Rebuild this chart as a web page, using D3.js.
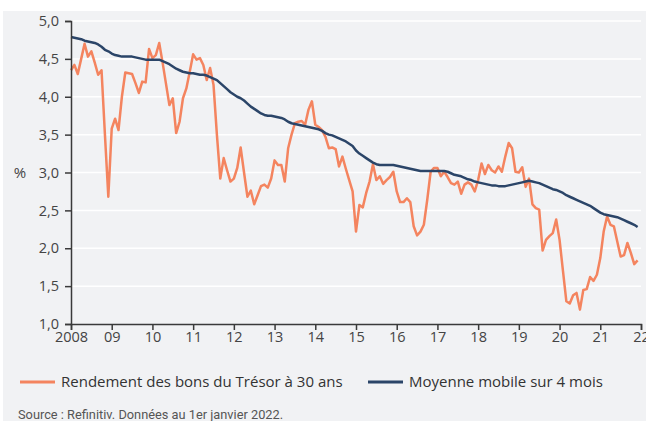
<!DOCTYPE html>
<html>
<head>
<meta charset="utf-8">
<script src="https://cdn.jsdelivr.net/npm/d3@7"></script>
<style>
  html, body { margin: 0; padding: 0; background: #fff; }
  svg { display: block; font-family: "Open Sans", Roboto, sans-serif; }
</style>
</head>
<body>
<div id="chart"></div>
<script>
// Monthly data, Jan 2008 -> Dec 2021
const startYear = 2008;
const yieldValues = [
  4.35, 4.42, 4.30, 4.50, 4.70, 4.53, 4.60, 4.45, 4.29, 4.35, 3.50, 2.68,
  3.58, 3.71, 3.56, 4.00, 4.32, 4.31, 4.30, 4.18, 4.05, 4.20, 4.19, 4.63,
  4.51, 4.55, 4.71, 4.45, 4.17, 3.89, 3.98, 3.52, 3.67, 3.98, 4.11, 4.33,
  4.56, 4.49, 4.51, 4.42, 4.22, 4.38, 4.16, 3.50, 2.92, 3.19, 3.03, 2.88,
  2.92, 3.06, 3.33, 3.00, 2.68, 2.76, 2.58, 2.70, 2.82, 2.84, 2.80, 2.92,
  3.16, 3.10, 3.10, 2.88, 3.32, 3.50, 3.65, 3.67, 3.68, 3.63, 3.83, 3.94,
  3.63, 3.60, 3.56, 3.47, 3.32, 3.33, 3.31, 3.08, 3.21, 3.05, 2.90, 2.75,
  2.22, 2.57, 2.54, 2.73, 2.88, 3.11, 2.90, 2.95, 2.85, 2.90, 2.94, 3.01,
  2.75, 2.61, 2.61, 2.66, 2.61, 2.29, 2.17, 2.22, 2.31, 2.64, 3.01, 3.06,
  3.06, 2.95, 3.01, 2.94, 2.86, 2.84, 2.88, 2.72, 2.84, 2.87, 2.84, 2.75,
  2.90, 3.12, 2.98, 3.10, 3.03, 3.00, 3.08, 3.01, 3.21, 3.39, 3.32, 3.01,
  3.00, 3.07, 2.81, 2.92, 2.58, 2.53, 2.51, 1.97, 2.11, 2.16, 2.20, 2.38,
  2.11, 1.70, 1.30, 1.27, 1.38, 1.41, 1.19, 1.45, 1.46, 1.62, 1.57, 1.65,
  1.87, 2.22, 2.42, 2.31, 2.29, 2.09, 1.89, 1.91, 2.07, 1.94, 1.79, 1.84
];
const movingAvgValues = [
  4.79, 4.78, 4.77, 4.76, 4.74, 4.73, 4.72, 4.71, 4.69, 4.66, 4.62, 4.60,
  4.57, 4.55, 4.54, 4.53, 4.53, 4.53, 4.53, 4.52, 4.51, 4.50, 4.49, 4.49,
  4.49, 4.49, 4.49, 4.47, 4.45, 4.43, 4.40, 4.37, 4.35, 4.33, 4.32, 4.31,
  4.31, 4.30, 4.29, 4.29, 4.28, 4.26, 4.24, 4.22, 4.18, 4.14, 4.10, 4.06,
  4.03, 4.00, 3.98, 3.95, 3.91, 3.87, 3.84, 3.81, 3.78, 3.76, 3.75, 3.75,
  3.74, 3.73, 3.72, 3.70, 3.67, 3.65, 3.64, 3.63, 3.62, 3.61, 3.60, 3.59,
  3.58, 3.57, 3.55, 3.52, 3.50, 3.49, 3.47, 3.45, 3.43, 3.41, 3.38, 3.35,
  3.29, 3.25, 3.22, 3.19, 3.16, 3.13, 3.11, 3.10, 3.10, 3.10, 3.10, 3.10,
  3.09, 3.08, 3.07, 3.06, 3.05, 3.04, 3.03, 3.02, 3.02, 3.02, 3.02, 3.02,
  3.02, 3.02, 3.02, 3.01, 2.99, 2.97, 2.96, 2.95, 2.93, 2.91, 2.90, 2.88,
  2.87, 2.86, 2.85, 2.84, 2.83, 2.83, 2.82, 2.82, 2.82, 2.83, 2.84, 2.85,
  2.86, 2.87, 2.88, 2.89, 2.88, 2.87, 2.86, 2.84, 2.82, 2.80, 2.78, 2.77,
  2.75, 2.73, 2.70, 2.68, 2.66, 2.64, 2.62, 2.60, 2.58, 2.56, 2.53, 2.50,
  2.47, 2.45, 2.44, 2.43, 2.42, 2.41, 2.39, 2.37, 2.35, 2.33, 2.31, 2.28
];
const yearTicks = [2008, 2009, 2010, 2011, 2012, 2013, 2014, 2015, 2016, 2017, 2018, 2019, 2020, 2021, 2022];
const yTicks = [1.0, 1.5, 2.0, 2.5, 3.0, 3.5, 4.0, 4.5, 5.0];
const seriesNames = ['Rendement des bons du Trésor à 30 ans', 'Moyenne mobile sur 4 mois'];
const seriesColors = ['#f4845f', '#2b4568'];
const sourceText = 'Source : Refinitiv. Données au 1er janvier 2022.';

const width = 646;
const height = 421;
const margin = { top: 21, right: 5, bottom: 97, left: 71 };

const svg = d3.select('#chart')
    .append('svg')
    .attr('width', width)
    .attr('height', height);

// grey panel
svg.append('rect')
    .attr('x', 3)
    .attr('y', 11)
    .attr('width', width - 3)
    .attr('height', height - 11)
    .attr('fill', '#f1f2f4');

const x = d3.scaleLinear()
    .domain([2008, 2022])
    .range([margin.left, 641]);

const y = d3.scaleLinear()
    .domain([1, 5])
    .range([324, margin.top]);

const comma = d3.formatLocale({ decimal: ',', thousands: ' ', grouping: [3], currency: ['', ' €'] });

// gridlines
svg.append('g')
    .selectAll('line')
    .data(yTicks.filter(d => d > 1))
    .join('line')
    .attr('x1', x(2008))
    .attr('x2', x(2022))
    .attr('y1', d => y(d))
    .attr('y2', d => y(d))
    .attr('stroke', '#ffffff')
    .attr('stroke-width', 1.5);

const line = d3.line()
    .x((d, i) => x(startYear + i / 12))
    .y(d => y(d));

svg.append('path')
    .datum(yieldValues)
    .attr('fill', 'none')
    .attr('stroke', seriesColors[0])
    .attr('stroke-width', 2.5)
    .attr('stroke-linejoin', 'round')
    .attr('d', line);

svg.append('path')
    .datum(movingAvgValues)
    .attr('fill', 'none')
    .attr('stroke', seriesColors[1])
    .attr('stroke-width', 2.5)
    .attr('stroke-linejoin', 'round')
    .attr('d', line);

// axes
const yAxis = svg.append('g')
    .attr('transform', `translate(${x(2008)},0)`)
    .call(d3.axisLeft(y).tickValues(yTicks).tickFormat(comma.format('.1f')).tickSize(6).tickPadding(6));

const xAxis = svg.append('g')
    .attr('transform', `translate(0,${y(1)})`)
    .call(d3.axisBottom(x).tickValues(yearTicks)
        .tickFormat(d => d === 2008 ? '2008' : String(d).slice(2))
        .tickSize(6).tickPadding(2));

[yAxis, xAxis].forEach(g => {
    g.select('.domain').attr('stroke', '#3a3a3a').attr('stroke-width', 1.5);
    g.selectAll('.tick line').attr('stroke', '#3a3a3a').attr('stroke-width', 1.5);
    g.selectAll('.tick text')
        .attr('fill', '#444')
        .style('font-size', '14.5px')
        .style('font-family', '"Open Sans", Roboto, sans-serif');
});

svg.append('text')
    .attr('x', 20)
    .attr('y', y(3) + 5)
    .attr('text-anchor', 'middle')
    .attr('fill', '#444')
    .style('font-size', '15px')
    .text('%');

// legend
const legendX = [20, 368];
seriesNames.forEach((name, i) => {
    svg.append('line')
        .attr('x1', legendX[i])
        .attr('x2', legendX[i] + 35)
        .attr('y1', 382)
        .attr('y2', 382)
        .attr('stroke', seriesColors[i])
        .attr('stroke-width', 3);
    svg.append('text')
        .attr('x', legendX[i] + 41)
        .attr('y', 387)
        .attr('fill', '#333')
        .style('font-size', '15px')
        .text(name);
});

svg.append('text')
    .attr('x', 18)
    .attr('y', 419)
    .attr('fill', '#555')
    .style('font-family', 'Roboto, sans-serif')
    .style('font-size', '12.8px')
    .text(sourceText);
</script>
</body>
</html>
